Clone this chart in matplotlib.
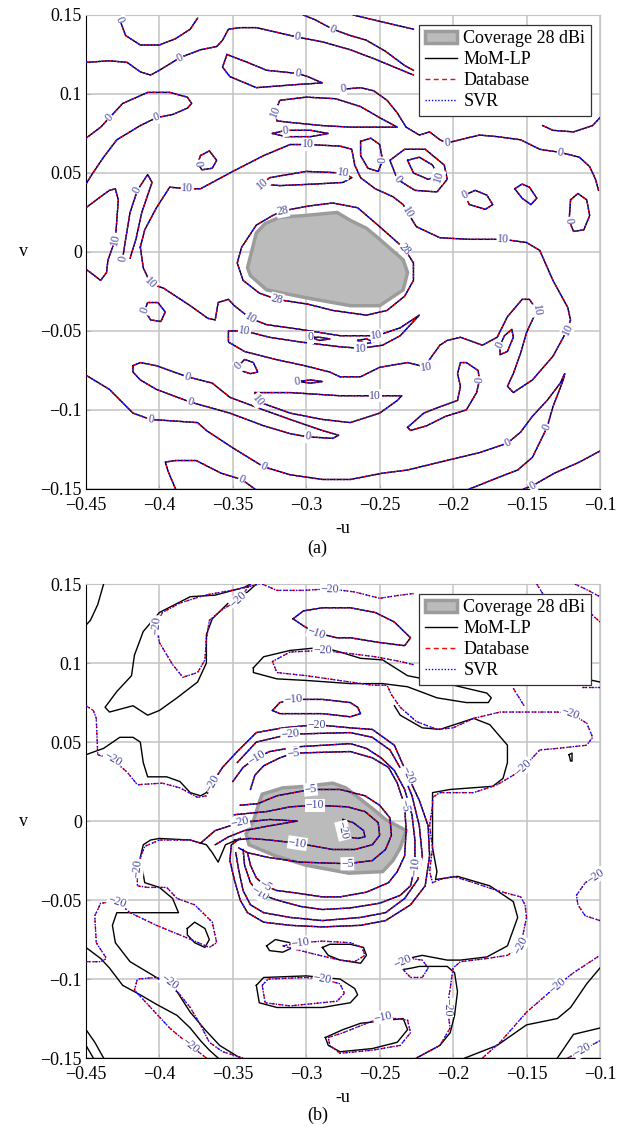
import numpy as np
import matplotlib
matplotlib.use('Agg')
import matplotlib.pyplot as plt
from matplotlib.patches import Polygon, Patch
from matplotlib.lines import Line2D

plt.rcParams['font.family'] = ['Liberation Serif', 'DejaVu Serif']

# ---------------- axes ticks ----------------
xticks = [-0.45, -0.4, -0.35, -0.3, -0.25, -0.2, -0.15, -0.1]
xtick_labels = ['\u22120.45', '\u22120.4', '\u22120.35', '\u22120.3', '\u22120.25', '\u22120.2', '\u22120.15', '\u22120.1']
yticks = [-0.15, -0.1, -0.05, 0, 0.05, 0.1, 0.15]
ytick_labels = ['\u22120.15', '\u22120.1', '\u22120.05', '0', '0.05', '0.1', '0.15']

# ---------------- panel (a): coverage area and gain contours (dBi) ----------------
cov_a_u = [-0.340, -0.334, -0.328, -0.318, -0.302, -0.279, -0.270, -0.259, -0.250, -0.234, -0.231, -0.234, -0.250, -0.270, -0.300, -0.327, -0.338]
cov_a_v = [-0.010, 0.012, 0.018, 0.022, 0.023, 0.025, 0.020, 0.015, 0.008, -0.005, -0.013, -0.024, -0.034, -0.034, -0.029, -0.024, -0.015]

a1_u = [-0.427, -0.423, -0.413, -0.400, -0.389, -0.379, -0.374]
a1_v = [0.147, 0.137, 0.131, 0.131, 0.135, 0.141, 0.148]
a2_u = [-0.450, -0.434, -0.422, -0.413, -0.406, -0.400, -0.386, -0.372, -0.361, -0.357, -0.353, -0.345, -0.334, -0.320, -0.306, -0.289, -0.270, -0.253, -0.240, -0.227]
a2_v = [0.120, 0.121, 0.120, 0.114, 0.112, 0.115, 0.123, 0.128, 0.130, 0.134, 0.141, 0.142, 0.142, 0.139, 0.136, 0.133, 0.128, 0.122, 0.117, 0.112]
a3_u = [-0.302, -0.294, -0.282, -0.270, -0.259, -0.246, -0.233, -0.227]
a3_v = [0.150, 0.147, 0.141, 0.137, 0.134, 0.127, 0.118, 0.115]
a4_u = [-0.268, -0.250, -0.227]
a4_v = [0.150, 0.146, 0.141]
a5_u = [-0.354, -0.357, -0.352, -0.334, -0.306, -0.289, -0.299, -0.306, -0.327, -0.340, -0.354]
a5_v = [0.125, 0.117, 0.111, 0.104, 0.106, 0.107, 0.111, 0.113, 0.115, 0.120, 0.125]
a6_u = [-0.450, -0.440, -0.434, -0.425, -0.408, -0.393, -0.381, -0.378, -0.381, -0.391, -0.402, -0.413, -0.429, -0.438, -0.446, -0.450]
a6_v = [0.072, 0.079, 0.085, 0.094, 0.101, 0.101, 0.098, 0.094, 0.091, 0.087, 0.085, 0.080, 0.071, 0.060, 0.049, 0.043]
a7_u = [-0.372, -0.366, -0.361, -0.364, -0.371, -0.374, -0.372]
a7_v = [0.061, 0.064, 0.058, 0.053, 0.052, 0.056, 0.061]
a8_u = [-0.321, -0.318, -0.300, -0.280, -0.263, -0.250, -0.238, -0.250, -0.270, -0.289, -0.311, -0.320, -0.321]
a8_v = [0.089, 0.096, 0.098, 0.097, 0.092, 0.085, 0.079, 0.079, 0.079, 0.080, 0.082, 0.083, 0.089]
a9_u = [-0.323, -0.314, -0.297, -0.285, -0.297, -0.314, -0.323]
a9_v = [0.075, 0.077, 0.077, 0.075, 0.073, 0.073, 0.075]
a10_u = [-0.275, -0.263, -0.254, -0.245, -0.238, -0.232, -0.223, -0.216, -0.209, -0.204, -0.191, -0.182, -0.170, -0.154, -0.141, -0.127, -0.114, -0.107, -0.103, -0.101]
a10_v = [0.103, 0.104, 0.102, 0.096, 0.088, 0.079, 0.074, 0.076, 0.071, 0.069, 0.072, 0.074, 0.073, 0.071, 0.065, 0.063, 0.060, 0.054, 0.046, 0.039]
a11_u = [-0.139, -0.132, -0.118, -0.105, -0.100]
a11_v = [0.080, 0.077, 0.076, 0.080, 0.085]
a12_u = [-0.413, -0.410, -0.402, -0.393, -0.381, -0.372, -0.350, -0.329, -0.311, -0.299,
         -0.277, -0.269, -0.267, -0.263, -0.253, -0.241, -0.234, -0.231, -0.225, -0.209,
         -0.189, -0.166, -0.150, -0.141, -0.132, -0.122, -0.120, -0.122, -0.132, -0.146,
         -0.159, -0.163, -0.159, -0.154, -0.150, -0.146, -0.143, -0.148, -0.153, -0.163,
         -0.170, -0.180, -0.195, -0.204, -0.209, -0.216, -0.218, -0.231, -0.250, -0.263, -0.277]
a12_v = [0.003, 0.014, 0.028, 0.041, 0.040, 0.040, 0.051, 0.061, 0.068, 0.068,
         0.067, 0.065, 0.055, 0.047, 0.040, 0.035, 0.030, 0.025, 0.016, 0.009,
         0.008, 0.008, 0.006, 0.001, -0.018, -0.035, -0.043, -0.049, -0.066, -0.081,
         -0.089, -0.085, -0.077, -0.064, -0.051, -0.043, -0.037, -0.030, -0.030, -0.041,
         -0.054, -0.059, -0.054, -0.056, -0.059, -0.068, -0.073, -0.070, -0.073, -0.079, -0.079]
a13_u = [-0.413, -0.411, -0.406, -0.397, -0.379, -0.367, -0.362, -0.360, -0.353, -0.349, -0.338, -0.327, -0.304, -0.277, -0.252, -0.236,
         -0.223, -0.229, -0.236, -0.248, -0.263, -0.277, -0.304, -0.325, -0.342, -0.353, -0.353, -0.342, -0.321, -0.301, -0.284, -0.277]
a13_v = [0.003, -0.010, -0.020, -0.023, -0.034, -0.042, -0.043, -0.032, -0.030, -0.034, -0.042, -0.046, -0.049, -0.053, -0.053, -0.048,
         -0.040, -0.046, -0.053, -0.059, -0.061, -0.060, -0.057, -0.054, -0.050, -0.050, -0.057, -0.063, -0.068, -0.072, -0.076, -0.079]
a14_u = [-0.450, -0.440, -0.434, -0.430, -0.428, -0.429, -0.430, -0.435, -0.436, -0.440, -0.447, -0.450]
a14_v = [0.028, 0.035, 0.039, 0.040, 0.033, 0.020, 0.008, -0.005, -0.013, -0.018, -0.013, -0.011]
a15_u = [-0.425, -0.423, -0.420, -0.415, -0.408, -0.405, -0.412, -0.416, -0.420, -0.425]
a15_v = [-0.004, 0.008, 0.025, 0.039, 0.049, 0.044, 0.025, 0.008, -0.004, -0.004]
a16_u = [-0.316, -0.299, -0.282, -0.265, -0.250, -0.233, -0.227, -0.227, -0.233, -0.245, -0.259, -0.282, -0.299, -0.320, -0.332, -0.343, -0.347, -0.344, -0.334, -0.323, -0.316]
a16_v = [0.026, 0.029, 0.031, 0.028, 0.016, 0.002, -0.007, -0.018, -0.028, -0.037, -0.040, -0.037, -0.033, -0.030, -0.026, -0.018, -0.007, 0.003, 0.017, 0.023, 0.026]
a17_u = [-0.330, -0.325, -0.300, -0.275, -0.269, -0.275, -0.294, -0.318, -0.330]
a17_v = [0.043, 0.047, 0.051, 0.050, 0.047, 0.044, 0.043, 0.042, 0.043]
a19_u = [-0.410, -0.408, -0.401, -0.396, -0.399, -0.406, -0.410]
a19_v = [-0.037, -0.032, -0.032, -0.038, -0.044, -0.043, -0.037]
a20_u = [-0.346, -0.342, -0.336, -0.333, -0.338, -0.345, -0.346]
a20_v = [-0.072, -0.068, -0.070, -0.076, -0.077, -0.075, -0.072]
a21_u = [-0.418, -0.413, -0.402, -0.381, -0.364, -0.352, -0.329, -0.311, -0.289, -0.278, -0.282, -0.299, -0.311, -0.329, -0.352, -0.379, -0.402, -0.413, -0.418, -0.418]
a21_v = [-0.072, -0.070, -0.072, -0.079, -0.083, -0.092, -0.100, -0.106, -0.113, -0.116, -0.118, -0.117, -0.115, -0.110, -0.102, -0.095, -0.087, -0.081, -0.076, -0.072]
a22_u = [-0.450, -0.434, -0.418, -0.406, -0.374, -0.368, -0.350, -0.329, -0.311, -0.289,
         -0.270, -0.248, -0.231, -0.209, -0.182, -0.163, -0.154, -0.146, -0.136, -0.127,
         -0.124, -0.125, -0.132, -0.136, -0.146, -0.156, -0.170, -0.186, -0.189]
a22_v = [-0.078, -0.087, -0.102, -0.106, -0.108, -0.113, -0.124, -0.136, -0.141, -0.144,
         -0.144, -0.140, -0.138, -0.133, -0.127, -0.121, -0.114, -0.104, -0.094, -0.083,
         -0.077, -0.081, -0.098, -0.111, -0.130, -0.138, -0.143, -0.149, -0.150]
a23_u = [-0.389, -0.394, -0.396, -0.389, -0.375, -0.358, -0.344, -0.335]
a23_v = [-0.150, -0.139, -0.133, -0.132, -0.132, -0.140, -0.144, -0.150]
a24_u = [-0.152, -0.146, -0.131, -0.114, -0.100]
a24_v = [-0.150, -0.148, -0.140, -0.133, -0.126]
a26_u = [-0.231, -0.220, -0.209, -0.197, -0.195, -0.197, -0.195, -0.191, -0.183, -0.182, -0.184, -0.191, -0.205, -0.218, -0.229, -0.231]
a26_v = [-0.111, -0.102, -0.098, -0.094, -0.085, -0.077, -0.070, -0.070, -0.075, -0.081, -0.089, -0.100, -0.104, -0.110, -0.113, -0.111]
a27_u = [-0.168, -0.165, -0.160, -0.159, -0.163, -0.168, -0.168]
a27_v = [-0.059, -0.053, -0.049, -0.054, -0.063, -0.065, -0.059]
a29_u = [-0.192, -0.185, -0.177, -0.173, -0.178, -0.189, -0.192]
a29_v = [0.036, 0.039, 0.036, 0.030, 0.027, 0.030, 0.036]
a30_u = [-0.158, -0.153, -0.148, -0.143, -0.147, -0.153, -0.158]
a30_v = [0.040, 0.043, 0.041, 0.034, 0.030, 0.034, 0.040]
a31_u = [-0.120, -0.115, -0.109, -0.107, -0.111, -0.118, -0.121, -0.120]
a31_v = [0.033, 0.037, 0.033, 0.023, 0.014, 0.013, 0.020, 0.033]
a32a_u = [-0.263, -0.256, -0.250, -0.248, -0.251, -0.258, -0.263, -0.263]
a32a_v = [0.070, 0.072, 0.068, 0.058, 0.051, 0.053, 0.061, 0.070]
a32b_u = [-0.243, -0.233, -0.219, -0.206, -0.204, -0.211, -0.226, -0.238, -0.243]
a32b_v = [0.058, 0.065, 0.065, 0.055, 0.046, 0.038, 0.039, 0.046, 0.058]
a32c_u = [-0.231, -0.223, -0.214, -0.210, -0.217, -0.227, -0.231]
a32c_v = [0.058, 0.060, 0.055, 0.048, 0.046, 0.050, 0.058]
a33_u = [-0.335, -0.311, -0.277, -0.253, -0.235, -0.238, -0.250, -0.270, -0.289, -0.311, -0.329, -0.333, -0.335]
a33_v = [-0.089, -0.089, -0.091, -0.091, -0.091, -0.094, -0.102, -0.108, -0.106, -0.102, -0.096, -0.094, -0.089]
t1_u = [-0.297, -0.291, -0.284, -0.291, -0.297]
t1_v = [-0.054, -0.054, -0.055, -0.056, -0.054]
t2_u = [-0.265, -0.259, -0.254, -0.259, -0.265]
t2_v = [-0.056, -0.055, -0.057, -0.058, -0.056]
t3_u = [-0.306, -0.297, -0.289, -0.297, -0.306]
t3_v = [-0.082, -0.081, -0.082, -0.083, -0.082]

# (u, v, [(vertex index, label)]) -- in (a) MoM-LP, Database and SVR coincide
lines_a = [
    (a1_u, a1_v, [(0, '0')]),
    (a2_u, a2_v, [(6, '0'), (14, '0')]),
    (a3_u, a3_v, [(2, '0')]),
    (a4_u, a4_v, []),
    (a5_u, a5_v, [(7, '0')]),
    (a6_u, a6_v, [(2, '0'), (10, '0')]),
    (a7_u, a7_v, [(5, '0')]),
    (a8_u, a8_v, [(0, '10')]),
    (a9_u, a9_v, [(1, '0')]),
    (a10_u, a10_v, [(0, '0'), (9, '0'), (15, '0')]),
    (a11_u, a11_v, []),
    (a12_u, a12_v, [(4, '10'), (9, '10'), (17, '10'), (21, '10'), (27, '10'), (36, '10'), (46, '10')]),
    (a13_u, a13_v, [(2, '10'), (10, '10'), (14, '10'), (20, '10'), (24, '10')]),
    (a14_u, a14_v, [(6, '10')]),
    (a15_u, a15_v, [(0, '0'), (3, '0')]),
    (a16_u, a16_v, [(0, '28'), (5, '28'), (13, '28')]),
    (a17_u, a17_v, [(0, '10'), (3, '10')]),
    (a19_u, a19_v, [(0, '0')]),
    (a20_u, a20_v, [(0, '0')]),
    (a21_u, a21_v, [(3, '0'), (15, '0'), (11, '0')]),
    (a22_u, a22_v, [(3, '0'), (7, '0'), (15, '0'), (23, '0')]),
    (a23_u, a23_v, [(6, '0')]),
    (a24_u, a24_v, [(1, '0')]),
    (a26_u, a26_v, [(9, '0')]),
    (a27_u, a27_v, [(0, '0')]),
    (a29_u, a29_v, [(0, '0')]),
    (a30_u, a30_v, []),
    (a31_u, a31_v, [(6, '0')]),
    (a32a_u, a32a_v, [(3, '0')]),
    (a32b_u, a32b_v, [(7, '0')]),
    (a32c_u, a32c_v, [(3, '10')]),
    (a33_u, a33_v, [(3, '10'), (11, '10')]),
    (t1_u, t1_v, [(0, '0')]),
    (t2_u, t2_v, []),
    (t3_u, t3_v, [(0, '0')]),
]

# ---------------- panel (b): coverage area and contours (dB) ----------------
cov_b_u = [-0.330, -0.316, -0.300, -0.282, -0.273, -0.255, -0.246, -0.232, -0.236, -0.241, -0.248, -0.271, -0.300, -0.321, -0.339, -0.341, -0.336, -0.332]
cov_b_v = [0.017, 0.021, 0.022, 0.024, 0.021, 0.008, 0.001, -0.006, -0.017, -0.025, -0.032, -0.033, -0.028, -0.022, -0.015, -0.008, 0.000, 0.012]

# shared by MoM-LP, Database and SVR
b5_u = [-0.309, -0.302, -0.289, -0.270, -0.253, -0.240, -0.229, -0.233, -0.250, -0.270, -0.279, -0.293, -0.301, -0.309]
b5_v = [0.128, 0.133, 0.135, 0.135, 0.132, 0.126, 0.116, 0.111, 0.113, 0.116, 0.116, 0.119, 0.123, 0.128]
b7_u = [-0.323, -0.318, -0.309, -0.289, -0.270, -0.265, -0.263, -0.270, -0.289, -0.304, -0.318, -0.323]
b7_v = [0.070, 0.075, 0.077, 0.077, 0.075, 0.072, 0.068, 0.066, 0.068, 0.068, 0.068, 0.070]
u2_u = [-0.347, -0.334, -0.311, -0.270, -0.255, -0.243, -0.235, -0.228, -0.223, -0.221, -0.224, -0.233, -0.246, -0.263, -0.289, -0.311, -0.329, -0.338, -0.343, -0.346, -0.348]
u2_v = [0.037, 0.050, 0.055, 0.056, 0.053, 0.045, 0.032, 0.016, -0.003, -0.022, -0.037, -0.049, -0.058, -0.061, -0.063, -0.061, -0.058, -0.053, -0.044, -0.031, -0.020]
u3_u = [-0.350, -0.343, -0.334, -0.325, -0.306, -0.270, -0.259, -0.249, -0.240, -0.233, -0.228, -0.226, -0.226, -0.229, -0.236, -0.250, -0.270, -0.289, -0.304, -0.320, -0.332, -0.338, -0.342, -0.343]
u3_v = [0.025, 0.034, 0.040, 0.044, 0.047, 0.049, 0.046, 0.040, 0.032, 0.020, 0.004, -0.012, -0.029, -0.041, -0.047, -0.052, -0.055, -0.056, -0.054, -0.050, -0.046, -0.039, -0.028, -0.018]
u4_u = [-0.338, -0.335, -0.329, -0.318, -0.309, -0.270, -0.255, -0.244, -0.238, -0.233, -0.232, -0.233, -0.238, -0.244, -0.259, -0.277, -0.289, -0.311, -0.320, -0.328, -0.334, -0.338, -0.340]
u4_v = [0.020, 0.029, 0.035, 0.040, 0.043, 0.044, 0.040, 0.034, 0.024, 0.010, -0.006, -0.022, -0.032, -0.039, -0.045, -0.048, -0.048, -0.045, -0.044, -0.041, -0.036, -0.028, -0.020]
i1_u = [-0.345, -0.333, -0.320, -0.297, -0.277, -0.260, -0.250, -0.243, -0.242, -0.246, -0.255, -0.272, -0.304, -0.326, -0.340, -0.346]
i1_v = [0.010, 0.011, 0.016, 0.020, 0.020, 0.016, 0.010, 0.002, -0.009, -0.018, -0.025, -0.027, -0.026, -0.023, -0.020, -0.017]
i2_u = [-0.349, -0.338, -0.327, -0.311, -0.294, -0.272, -0.260, -0.251, -0.250, -0.255, -0.267, -0.282, -0.306, -0.325, -0.338, -0.349]
i2_v = [0.004, 0.005, 0.006, 0.009, 0.010, 0.009, 0.006, -0.001, -0.009, -0.015, -0.018, -0.018, -0.014, -0.012, -0.011, -0.012]
i3_u = [-0.275, -0.268, -0.261, -0.260, -0.265, -0.272, -0.275, -0.275]
i3_v = [0.001, -0.001, -0.006, -0.010, -0.011, -0.010, -0.006, 0.001]
i4_u = [-0.372, -0.362, -0.345, -0.325, -0.306, -0.325, -0.342, -0.353, -0.362]
i4_v = [-0.014, -0.006, -0.001, 0.001, 0.000, -0.003, -0.006, -0.010, -0.015]

# Database / SVR only
b1_u = [-0.338, -0.346, -0.357, -0.366, -0.368, -0.369, -0.374, -0.384, -0.391, -0.400, -0.402, -0.398, -0.386, -0.369, -0.345, -0.332]
b1_v = [0.150, 0.140, 0.134, 0.127, 0.115, 0.102, 0.094, 0.091, 0.099, 0.113, 0.124, 0.132, 0.138, 0.143, 0.147, 0.150]
b2_u = [-0.330, -0.320, -0.302, -0.284, -0.267, -0.250, -0.236, -0.227]
b2_v = [0.150, 0.146, 0.146, 0.147, 0.145, 0.141, 0.143, 0.144]
b3a_u = [-0.143, -0.139, -0.135]
b3a_v = [0.150, 0.144, 0.140]
b3b_u = [-0.117, -0.108, -0.100]
b3b_v = [0.150, 0.146, 0.142]
b3c_u = [-0.107, -0.100]
b3c_v = [0.132, 0.126]
b3d_u = [-0.112, -0.100]
b3d_v = [0.085, 0.085]
b4_u = [-0.227, -0.236, -0.253, -0.270, -0.289, -0.311, -0.323, -0.320, -0.300, -0.270, -0.255, -0.245, -0.242, -0.236,
        -0.225, -0.211, -0.200, -0.186, -0.168, -0.150, -0.129, -0.120, -0.109, -0.105, -0.109, -0.129, -0.141, -0.146,
        -0.152, -0.159, -0.170, -0.186, -0.209, -0.214, -0.214, -0.216, -0.214, -0.216, -0.214, -0.209, -0.200, -0.186,
        -0.170, -0.154, -0.151, -0.150, -0.154, -0.163, -0.177, -0.195, -0.200, -0.202, -0.204, -0.202, -0.209, -0.225]
b4_v = [0.099, 0.101, 0.104, 0.106, 0.108, 0.107, 0.101, 0.094, 0.092, 0.088, 0.086, 0.086, 0.080, 0.072,
        0.063, 0.058, 0.059, 0.065, 0.069, 0.069, 0.069, 0.068, 0.062, 0.053, 0.048, 0.046, 0.045, 0.040,
        0.034, 0.029, 0.023, 0.018, 0.018, 0.015, 0.010, -0.003, -0.017, -0.032, -0.039, -0.037, -0.035, -0.039,
        -0.044, -0.048, -0.053, -0.061, -0.079, -0.085, -0.087, -0.089, -0.093, -0.106, -0.118, -0.131, -0.142, -0.150]
b4b_u = [-0.159, -0.155, -0.151]
b4b_v = [0.084, 0.078, 0.072]
u1_u = [-0.450, -0.445, -0.443, -0.442, -0.432, -0.422, -0.415, -0.398, -0.386, -0.374, -0.368, -0.364, -0.357,
        -0.347, -0.334, -0.316, -0.293, -0.270, -0.255, -0.240, -0.231, -0.223, -0.217, -0.216, -0.219,
        -0.229, -0.246, -0.263, -0.289, -0.311, -0.329, -0.340, -0.345, -0.349, -0.352, -0.351, -0.345]
u1_v = [0.073, 0.070, 0.065, 0.042, 0.039, 0.031, 0.023, 0.024, 0.021, 0.015, 0.016, 0.024, 0.034,
        0.044, 0.056, 0.059, 0.061, 0.059, 0.058, 0.048, 0.029, 0.013, -0.003, -0.022, -0.041,
        -0.053, -0.063, -0.066, -0.067, -0.066, -0.064, -0.058, -0.050, -0.037, -0.025, -0.015, -0.011]
c20_u = [-0.450, -0.440, -0.436, -0.443, -0.444, -0.440, -0.429, -0.420, -0.402, -0.381, -0.366, -0.361,
         -0.364, -0.376, -0.388, -0.395, -0.408, -0.415, -0.415, -0.413, -0.410, -0.400, -0.379, -0.372]
c20_v = [-0.089, -0.089, -0.087, -0.077, -0.060, -0.052, -0.051, -0.058, -0.066, -0.074, -0.080, -0.077,
         -0.064, -0.053, -0.049, -0.042, -0.042, -0.041, -0.030, -0.023, -0.016, -0.012, -0.012, -0.014]
l1_u = [-0.330, -0.326, -0.300, -0.289, -0.277, -0.274, -0.279, -0.311, -0.328, -0.330]
l1_v = [-0.104, -0.100, -0.099, -0.100, -0.103, -0.109, -0.114, -0.117, -0.115, -0.104]
l2_u = [-0.285, -0.275, -0.248, -0.231, -0.229, -0.236, -0.255, -0.277, -0.284, -0.285]
l2_v = [-0.137, -0.134, -0.124, -0.126, -0.134, -0.142, -0.145, -0.147, -0.142, -0.137]
l3_u = [-0.316, -0.304, -0.289, -0.270, -0.262, -0.260, -0.267, -0.277, -0.291, -0.304, -0.316]
l3_v = [-0.079, -0.077, -0.076, -0.077, -0.080, -0.085, -0.089, -0.088, -0.085, -0.082, -0.079]
l4_u = [-0.368, -0.379, -0.393, -0.406, -0.417, -0.415, -0.402, -0.393, -0.386, -0.379, -0.372, -0.366, -0.357, -0.343]
l4_v = [-0.150, -0.142, -0.131, -0.118, -0.107, -0.100, -0.099, -0.102, -0.110, -0.118, -0.129, -0.140, -0.146, -0.150]
r1_u = [-0.180, -0.168, -0.150, -0.129, -0.118, -0.100]
r1_v = [-0.150, -0.140, -0.121, -0.104, -0.096, -0.085]
r2_u = [-0.122, -0.112, -0.100]
r2_v = [-0.150, -0.145, -0.139]
r3_u = [-0.100, -0.110, -0.115, -0.116, -0.110, -0.103, -0.100]
r3_v = [-0.063, -0.060, -0.053, -0.047, -0.039, -0.035, -0.033]
sl_u = [-0.234, -0.229, -0.221, -0.217, -0.221, -0.229, -0.234, -0.234]
sl_v = [-0.089, -0.087, -0.088, -0.093, -0.099, -0.099, -0.094, -0.089]

# MoM-LP only
m1_u = [-0.438, -0.442, -0.447, -0.450]
m1_v = [0.150, 0.137, 0.127, 0.124]
m2_u = [-0.338, -0.342, -0.362, -0.379, -0.400, -0.411, -0.417, -0.419, -0.429, -0.437, -0.434, -0.418, -0.408, -0.400, -0.388, -0.374, -0.368, -0.368, -0.364, -0.352, -0.340, -0.334]
m2_v = [0.150, 0.148, 0.143, 0.142, 0.132, 0.120, 0.105, 0.092, 0.082, 0.072, 0.069, 0.073, 0.067, 0.070, 0.078, 0.088, 0.100, 0.118, 0.128, 0.139, 0.145, 0.150]
m3_u = [-0.110, -0.100]
m3_v = [0.090, 0.088]
m4_u = [-0.240, -0.236, -0.221, -0.209, -0.186, -0.175, -0.163, -0.163, -0.166, -0.173, -0.202, -0.214, -0.214,
        -0.214, -0.214, -0.211, -0.212, -0.197, -0.175, -0.159, -0.156, -0.163, -0.177, -0.195, -0.204, -0.221,
        -0.231, -0.234, -0.228, -0.223, -0.204, -0.199, -0.197, -0.199, -0.202, -0.209, -0.225]
m4_v = [0.073, 0.067, 0.059, 0.058, 0.065, 0.061, 0.048, 0.037, 0.027, 0.022, 0.020, 0.018, 0.010,
        -0.003, -0.017, -0.032, -0.037, -0.035, -0.041, -0.051, -0.061, -0.079, -0.086, -0.088, -0.088, -0.085,
        -0.087, -0.094, -0.093, -0.092, -0.092, -0.096, -0.108, -0.123, -0.134, -0.142, -0.150]
m6_u = [-0.336, -0.329, -0.311, -0.289, -0.277, -0.263, -0.248, -0.231, -0.209, -0.177, -0.174, -0.176, -0.191, -0.211, -0.231, -0.248, -0.270, -0.300, -0.320, -0.336, -0.336]
m6_v = [0.097, 0.104, 0.108, 0.110, 0.107, 0.103, 0.102, 0.092, 0.088, 0.081, 0.078, 0.075, 0.075, 0.078, 0.085, 0.087, 0.087, 0.089, 0.090, 0.094, 0.097]
m7a_u = [-0.450, -0.438, -0.427, -0.418, -0.413, -0.411, -0.408, -0.395, -0.386, -0.379, -0.372, -0.368]
m7a_v = [0.042, 0.046, 0.053, 0.053, 0.050, 0.037, 0.028, 0.028, 0.025, 0.018, 0.016, 0.018]
m7b_u = [-0.345, -0.355, -0.360, -0.364, -0.368, -0.379, -0.400, -0.406, -0.411, -0.413, -0.410, -0.400, -0.391,
         -0.387, -0.393, -0.418, -0.429, -0.432, -0.430, -0.420, -0.402, -0.388, -0.379, -0.369, -0.359, -0.345]
m7b_v = [-0.011, -0.015, -0.026, -0.020, -0.015, -0.012, -0.011, -0.012, -0.015, -0.023, -0.039, -0.042, -0.049,
         -0.058, -0.058, -0.058, -0.058, -0.066, -0.077, -0.089, -0.099, -0.108, -0.121, -0.132, -0.142, -0.150]
m8_u = [-0.381, -0.376, -0.369, -0.366, -0.369, -0.376, -0.381, -0.381]
m8_v = [-0.068, -0.064, -0.068, -0.075, -0.080, -0.077, -0.072, -0.068]
m9_u = [-0.450, -0.440, -0.434, -0.425, -0.413, -0.402, -0.388, -0.379, -0.372, -0.366, -0.360]
m9_v = [-0.080, -0.087, -0.093, -0.104, -0.110, -0.116, -0.123, -0.131, -0.139, -0.145, -0.150]
m10_u = [-0.450, -0.444, -0.438]
m10_v = [-0.132, -0.140, -0.150]
m11_u = [-0.450, -0.445]
m11_v = [-0.142, -0.150]
ml1_u = [-0.334, -0.329, -0.300, -0.277, -0.267, -0.265, -0.270, -0.289, -0.320, -0.332, -0.334]
ml1_v = [-0.104, -0.099, -0.098, -0.100, -0.106, -0.110, -0.115, -0.118, -0.118, -0.115, -0.104]
ml2_u = [-0.287, -0.275, -0.263, -0.234, -0.231, -0.238, -0.255, -0.277, -0.285, -0.287]
ml2_v = [-0.137, -0.132, -0.128, -0.125, -0.132, -0.140, -0.144, -0.146, -0.142, -0.137]
ml3a_u = [-0.327, -0.321, -0.311, -0.309, -0.316, -0.325, -0.327]
ml3a_v = [-0.079, -0.075, -0.077, -0.080, -0.083, -0.082, -0.079]
ml3b_u = [-0.289, -0.284, -0.270, -0.261, -0.259, -0.263, -0.277, -0.285, -0.289]
ml3b_v = [-0.080, -0.078, -0.078, -0.080, -0.085, -0.090, -0.088, -0.085, -0.080]
mr1_u = [-0.192, -0.170, -0.150, -0.129, -0.120, -0.109, -0.100]
mr1_v = [-0.150, -0.142, -0.129, -0.125, -0.118, -0.103, -0.093]
mr2_u = [-0.129, -0.118, -0.100]
mr2_v = [-0.150, -0.135, -0.131]
mdot_u = [-0.121, -0.119, -0.119, -0.120, -0.121]
mdot_v = [0.042, 0.043, 0.038, 0.038, 0.042]

M = '\u2212'
shared_b = [
    (b5_u, b5_v, [(11, M + '10')]),
    (b7_u, b7_v, [(2, M + '10')]),
    (u2_u, u2_v, [(2, M + '20')]),
    (u3_u, u3_v, [(2, M + '10'), (12, M + '10'), (20, M + '10')]),
    (u4_u, u4_v, [(4, M + '5'), (9, M + '5'), (19, M + '5')]),
    (i1_u, i1_v, [(3, M + '5'), (11, M + '5')]),
    (i2_u, i2_v, [(4, M + '10'), (12, M + '10')]),
    (i3_u, i3_v, [(6, M + '20')]),
]
db_b = [
    (b1_u, b1_v, [(10, M + '20'), (1, M + '20')]),
    (b2_u, b2_v, [(3, M + '20')]),
    (b3a_u, b3a_v, []), (b3b_u, b3b_v, []), (b3c_u, b3c_v, []), (b3d_u, b3d_v, []),
    (b4_u, b4_v, [(4, M + '20'), (21, M + '20'), (28, M + '20'), (46, M + '20'), (52, M + '20')]),
    (b4b_u, b4b_v, []),
    (u1_u, u1_v, [(4, M + '20'), (11, M + '20'), (16, M + '20'), (20, M + '20')]),
    (c20_u + i4_u[1:], c20_v + i4_v[1:], [(6, M + '20'), (18, M + '20'), (25, M + '20')]),
    (l1_u, l1_v, [(3, M + '20')]),
    (l2_u, l2_v, [(2, M + '10')]),
    (l3_u, l3_v, [(1, M + '10')]),
    (l4_u, l4_v, [(1, M + '20'), (7, M + '20')]),
    (r1_u, r1_v, [(3, M + '20')]),
    (r2_u, r2_v, [(1, M + '20')]),
    (r3_u, r3_v, [(5, M + '20')]),
    (sl_u, sl_v, [(0, M + '20')]),
]
mom_b = [
    (m1_u, m1_v), (m2_u, m2_v), (m3_u, m3_v), (m4_u, m4_v), (m6_u, m6_v),
    (m7a_u + u1_u[11:], m7a_v + u1_v[11:]), (i4_u, i4_v), (m7b_u, m7b_v), (m8_u, m8_v),
    (m9_u, m9_v), (m10_u, m10_v), (m11_u, m11_v), (ml1_u, ml1_v), (ml2_u, ml2_v),
    (ml3a_u, ml3a_v), (ml3b_u, ml3b_v), (mr1_u, mr1_v), (mr2_u, mr2_v), (mdot_u, mdot_v),
]

label_color = '#4646a0'


def draw_mom(ax, u, v):
    ax.plot(u, v, color='black', lw=1.0, zorder=3)


def draw_db(ax, u, v):
    ax.plot(u, v, color='red', lw=0.9, ls=(0, (3.5, 2.5)), zorder=4)
    ax.plot(u, v, color='blue', lw=1.0, ls=(0, (1, 1.3)), zorder=5)


def put_labels(ax, u, v, labels):
    for i, txt in labels:
        j0 = max(i - 1, 0)
        j1 = min(i + 1, len(u) - 1)
        p0 = ax.transData.transform((u[j0], v[j0]))
        p1 = ax.transData.transform((u[j1], v[j1]))
        ang = np.degrees(np.arctan2(p1[1] - p0[1], p1[0] - p0[0]))
        if ang > 90:
            ang -= 180
        if ang < -90:
            ang += 180
        ax.text(u[i], v[i], txt, rotation=ang, rotation_mode='anchor', ha='center', va='center',
                fontsize=8.5, color=label_color, zorder=6,
                bbox=dict(boxstyle='square,pad=0.05', fc='white', ec='none'))


def setup_axes(ax, cov_u, cov_v):
    ax.set_xlim(-0.45, -0.1)
    ax.set_ylim(-0.15, 0.15)
    ax.set_xticks(xticks)
    ax.set_xticklabels(xtick_labels)
    ax.set_yticks(yticks)
    ax.set_yticklabels(ytick_labels)
    ax.tick_params(labelsize=13, direction='in', length=3, color='#b0b0b0')
    ax.tick_params(axis='x', pad=6)
    ax.tick_params(axis='y', pad=3)
    ax.grid(True, color='#c4c4c4', lw=1.1)
    ax.set_axisbelow(True)
    for s in ['top', 'right']:
        ax.spines[s].set_color('#c4c4c4')
    ax.set_xlabel('-u', fontsize=13, labelpad=4)
    ax.set_ylabel('v', fontsize=13, rotation=0, labelpad=12, va='center')
    ax.add_patch(Polygon(np.column_stack([cov_u, cov_v]), closed=True, fc='#bbbbbb', ec='#9c9c9c', lw=2.5, zorder=2))
    handles = [Patch(fc='#bbbbbb', ec='#9c9c9c', lw=2.5),
               Line2D([], [], color='black', lw=1.0),
               Line2D([], [], color='red', lw=1.0, ls=(0, (3.5, 2.5))),
               Line2D([], [], color='blue', lw=1.0, ls=(0, (1, 1.3)))]
    leg = ax.legend(handles, ['Coverage 28 dBi', 'MoM-LP', 'Database', 'SVR'], loc='upper right',
                    bbox_to_anchor=(0.982, 0.979), borderaxespad=0, fontsize=13, fancybox=False,
                    framealpha=1, edgecolor='#333333', handlelength=1.8, handletextpad=0.35,
                    labelspacing=0.22, borderpad=0.3)
    leg.get_frame().set_linewidth(0.9)
    leg.set_zorder(10)


fig = plt.figure(figsize=(6.35, 11.35), dpi=100)
ax_a = fig.add_axes([0.1354, 0.5692, 0.8094, 0.4176])
ax_b = fig.add_axes([0.1354, 0.0678, 0.8094, 0.4176])

setup_axes(ax_a, cov_a_u, cov_a_v)
for u, v, labels in lines_a:
    draw_mom(ax_a, u, v)
    draw_db(ax_a, u, v)
for u, v, labels in lines_a:
    put_labels(ax_a, u, v, labels)

setup_axes(ax_b, cov_b_u, cov_b_v)
for u, v, labels in shared_b:
    draw_mom(ax_b, u, v)
    draw_db(ax_b, u, v)
for u, v in mom_b:
    draw_mom(ax_b, u, v)
for u, v, labels in db_b:
    draw_db(ax_b, u, v)
for u, v, labels in shared_b + db_b:
    put_labels(ax_b, u, v, labels)

fig.text(0.5, 1 - 548 / 1135, '(a)', ha='center', va='center', fontsize=13)
fig.text(0.5, 1 - 1115 / 1135, '(b)', ha='center', va='center', fontsize=13)

fig.savefig('out.png', dpi=100)
